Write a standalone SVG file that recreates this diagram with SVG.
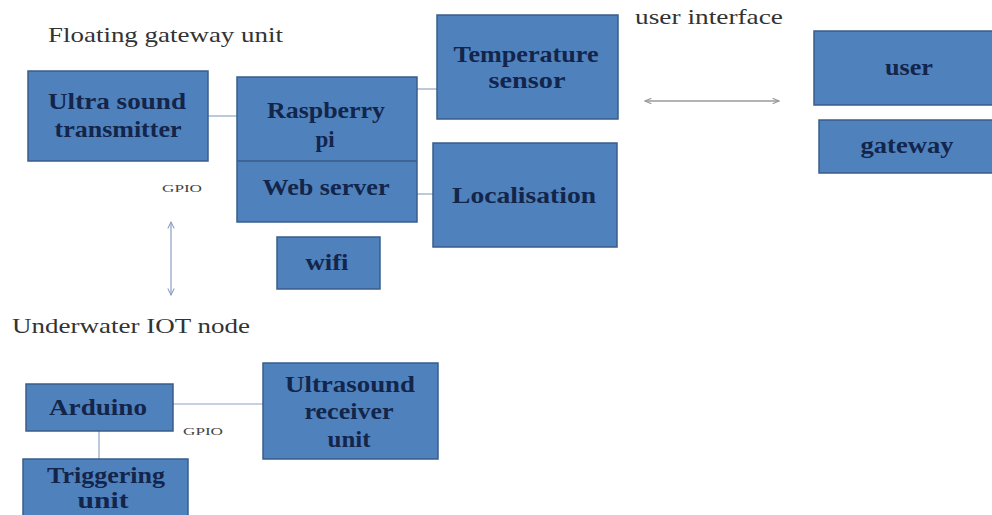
<svg xmlns="http://www.w3.org/2000/svg" width="992" height="515" viewBox="0 0 992 515">
<style>
.box{fill:#4F81BD;stroke:#385D8A;stroke-width:1.5}
.t{font-family:"Liberation Serif","Times New Roman",serif;font-size:23px;font-weight:bold;fill:#13254a;text-anchor:middle}
.h{font-family:"Liberation Serif","Times New Roman",serif;font-size:22px;fill:#333333}
.g{font-family:"Liberation Serif","Times New Roman",serif;font-size:11px;fill:#444444}
.ln{stroke:#8FA3C4;stroke-width:1.2;fill:none}
.ar{stroke:#8C9EC4;stroke-width:1.2;fill:none}
.ag{stroke:#9a9a9a;stroke-width:1.5;fill:none}
</style>
<defs>
<marker id="mb" viewBox="0 0 10 10" refX="9" refY="5" markerWidth="8" markerHeight="8" orient="auto-start-reverse" markerUnits="userSpaceOnUse">
<path d="M1,1 L9,5 L1,9" fill="none" stroke="#8C9EC4" stroke-width="1.3"/>
</marker>
<marker id="mg" viewBox="0 0 10 10" refX="9" refY="5" markerWidth="8" markerHeight="8" orient="auto-start-reverse" markerUnits="userSpaceOnUse">
<path d="M1,1.5 L9,5 L1,8.5" fill="none" stroke="#999999" stroke-width="1.5"/>
</marker>
</defs>
<rect width="992" height="515" fill="#ffffff"/>

<g id="labels">
<text class="h" x="48" y="42" textLength="235" lengthAdjust="spacingAndGlyphs">Floating gateway unit</text>
<text class="h" x="635" y="24" textLength="148" lengthAdjust="spacingAndGlyphs">user interface</text>
<text class="h" x="12" y="333" textLength="238" lengthAdjust="spacingAndGlyphs">Underwater IOT node</text>
<text class="g" x="162" y="192" textLength="40" lengthAdjust="spacingAndGlyphs">GPIO</text>
<text class="g" x="183" y="435" textLength="40" lengthAdjust="spacingAndGlyphs">GPIO</text>
</g>

<g id="connectors">
<line class="ln" x1="208" y1="116" x2="237" y2="116"/>
<line class="ln" x1="417" y1="89" x2="437" y2="89"/>
<line class="ln" x1="417" y1="194" x2="433" y2="194"/>
<line class="ln" x1="173" y1="404" x2="263" y2="404"/>
<line class="ln" x1="99" y1="431" x2="99" y2="459"/>
<line class="ar" x1="171" y1="222" x2="171" y2="295" marker-start="url(#mb)" marker-end="url(#mb)"/>
<line class="ag" x1="645" y1="101" x2="779" y2="101" marker-start="url(#mg)" marker-end="url(#mg)"/>
</g>

<g id="ultrasound-transmitter">
<rect class="box" x="28" y="71" width="180" height="90"/>
<text class="t" x="117" y="109" textLength="138" lengthAdjust="spacingAndGlyphs">Ultra sound</text>
<text class="t" x="118" y="137" textLength="127" lengthAdjust="spacingAndGlyphs">transmitter</text>
</g>

<g id="raspberry-pi">
<rect class="box" x="237" y="77" width="180" height="145"/>
<line x1="237" y1="161" x2="417" y2="161" stroke="#385D8A" stroke-width="1.5"/>
<text class="t" x="326" y="118" textLength="118" lengthAdjust="spacingAndGlyphs">Raspberry</text>
<text class="t" x="325" y="147">pi</text>
<text class="t" x="326" y="195" textLength="127" lengthAdjust="spacingAndGlyphs">Web server</text>
</g>

<g id="wifi">
<rect class="box" x="277" y="237" width="103" height="52"/>
<text class="t" x="327" y="270" textLength="43" lengthAdjust="spacingAndGlyphs">wifi</text>
</g>

<g id="temperature-sensor">
<rect class="box" x="437" y="15" width="181" height="104"/>
<text class="t" x="526" y="62" textLength="145" lengthAdjust="spacingAndGlyphs">Temperature</text>
<text class="t" x="527" y="88" textLength="77" lengthAdjust="spacingAndGlyphs">sensor</text>
</g>

<g id="localisation">
<rect class="box" x="433" y="143" width="184" height="104"/>
<text class="t" x="524" y="203" textLength="144" lengthAdjust="spacingAndGlyphs">Localisation</text>
</g>

<g id="user">
<rect class="box" x="814" y="31" width="182" height="74"/>
<text class="t" x="909" y="75" textLength="48" lengthAdjust="spacingAndGlyphs">user</text>
</g>

<g id="gateway">
<rect class="box" x="819" y="120" width="177" height="53"/>
<text class="t" x="907" y="153" textLength="93" lengthAdjust="spacingAndGlyphs">gateway</text>
</g>

<g id="arduino">
<rect class="box" x="26" y="384" width="147" height="47"/>
<text class="t" x="98" y="415" textLength="98" lengthAdjust="spacingAndGlyphs">Arduino</text>
</g>

<g id="ultrasound-receiver">
<rect class="box" x="263" y="363" width="175" height="96"/>
<text class="t" x="350" y="392" textLength="130" lengthAdjust="spacingAndGlyphs">Ultrasound</text>
<text class="t" x="349" y="419" textLength="89" lengthAdjust="spacingAndGlyphs">receiver</text>
<text class="t" x="349" y="447" textLength="43" lengthAdjust="spacingAndGlyphs">unit</text>
</g>

<g id="triggering-unit">
<rect class="box" x="23" y="459" width="165" height="62"/>
<text class="t" x="106" y="483" textLength="118" lengthAdjust="spacingAndGlyphs">Triggering</text>
<text class="t" x="103" y="508" textLength="51" lengthAdjust="spacingAndGlyphs">unit</text>
</g>
</svg>
